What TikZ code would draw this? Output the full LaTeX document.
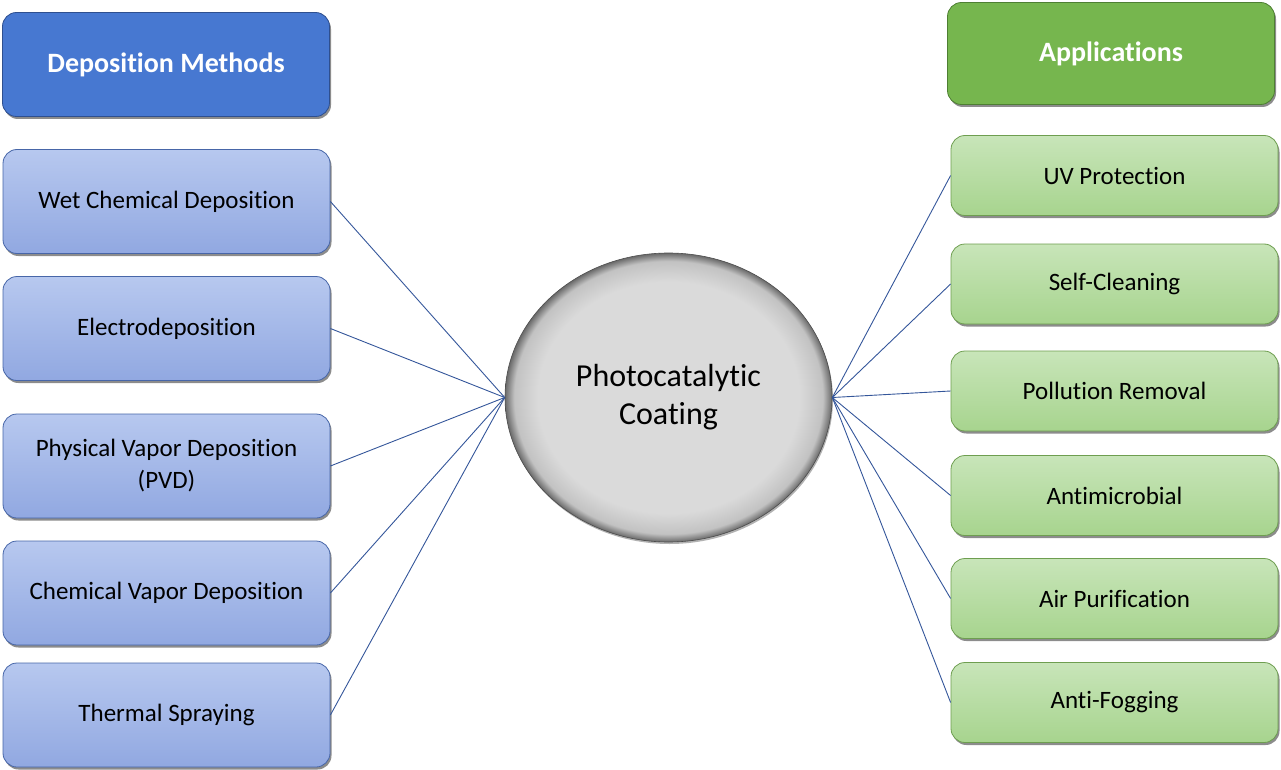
\documentclass[tikz,border=0pt]{standalone}
\usepackage{fontspec}
\setmainfont{Carlito}[Ligatures=NoCommon]
\usetikzlibrary{shapes.geometric,shadows}
\definecolor{headBlue}{HTML}{4778D1}
\definecolor{headBlueEdge}{HTML}{2E4F8F}
\definecolor{headGreen}{HTML}{76B64E}
\definecolor{headGreenEdge}{HTML}{4E7F33}
\definecolor{methTop}{HTML}{B7C8EF}
\definecolor{methBot}{HTML}{91A8E1}
\definecolor{methEdge}{HTML}{4766A8}
\definecolor{appTop}{HTML}{C8E5B9}
\definecolor{appBot}{HTML}{A7D48E}
\definecolor{appEdge}{HTML}{6E9E50}
\definecolor{linkBlue}{HTML}{34569A}
\definecolor{ballIn}{HTML}{DADADA}
\definecolor{ballMid}{HTML}{C2C2C2}
\definecolor{ballOut}{HTML}{6A6A6A}
\pgfdeclareradialshading{coatball}{\pgfpoint{0bp}{0bp}}{color(0bp)=(ballIn); color(20bp)=(ballIn); color(23.6bp)=(ballMid); color(25bp)=(ballOut); color(50bp)=(ballOut)}
\begin{document}
\begin{tikzpicture}[x=1pt,y=-1pt,
    box/.style={rounded corners=14pt, line width=0.8pt, inner sep=0pt, minimum width=327pt, align=center,
      drop shadow={shadow xshift=1.5pt, shadow yshift=-2.5pt, opacity=0.45, fill=black}},
    head/.style={box, minimum height=104pt, text=white, font=\fontsize{28}{33}\selectfont\bfseries},
    method/.style={box, draw=methEdge, top color=methTop, bottom color=methBot, minimum height=104pt, font=\fontsize{25}{32}\selectfont},
    app/.style={box, draw=appEdge, top color=appTop, bottom color=appBot, minimum height=80pt, font=\fontsize{25}{30}\selectfont},
    link/.style={draw=linkBlue, line width=0.9pt}]
    \useasboundingbox (0,0) rectangle (1281,770);
    \node[head, draw=headBlueEdge, fill=headBlue] (mh) at (166,64.5) {Deposition Methods};
    \node[head, draw=headGreenEdge, fill=headGreen, minimum height=102pt] (ah) at (1111,53.5) {Applications};
    \node[ellipse, draw=gray!60!black, line width=0.6pt, shading=coatball, minimum width=327pt, minimum height=289pt,
      inner sep=0pt, align=center, font=\fontsize{32}{38}\selectfont,
      drop shadow={shadow xshift=1pt, shadow yshift=-2pt, opacity=0.3, fill=black}] (pc) at (668.5,397.5) {Photocatalytic\\Coating};
    \def\ms{201.5/{Wet Chemical Deposition},328.5/{Electrodeposition},466/{Physical Vapor Deposition\\(PVD)},593/{Chemical Vapor Deposition},715/{Thermal Spraying}}
    %        m1                            m2                         m3                                        m4                               m5
    \foreach \y/\t [count=\i from 1] in \ms {\node[method] (m\i) at (166.5,\y) {\t};}
    \def\as{175.5/{UV Protection},284/{Self-Cleaning},391/{Pollution Removal},495.5/{Antimicrobial},598.5/{Air Purification},702.5/{Anti-Fogging}}
    %        a1                    a2                  a3                      a4                      a5                        a6
    \foreach \y/\t [count=\i from 1] in \as {\node[app] (a\i) at (1114.5,\y) {\t};}
    \foreach \i in {1,...,5} {\draw[link] (m\i.east)--(pc.west);}
    \foreach \i in {1,...,6} {\draw[link] (pc.east)--(a\i.west);}
  \end{tikzpicture}
\end{document}
